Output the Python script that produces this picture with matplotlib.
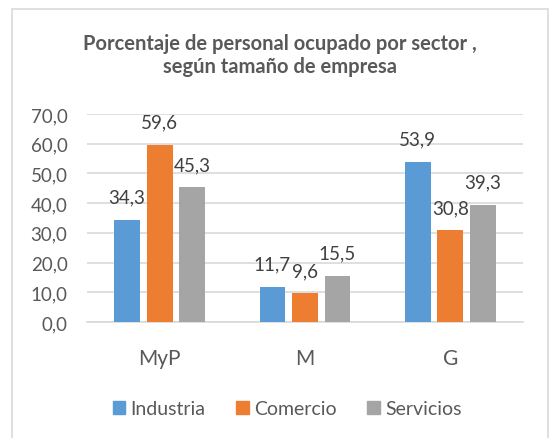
import matplotlib
matplotlib.use("Agg")
import matplotlib.pyplot as plt
import numpy as np
from matplotlib.patches import Rectangle

categories = ["MyP", "M", "G"]
series_names = ["Industria", "Comercio", "Servicios"]
industria = [34.3, 11.7, 53.9]
comercio = [59.6, 9.6, 30.8]
servicios = [45.3, 15.5, 39.3]
yticks = [0, 10, 20, 30, 40, 50, 60, 70]
colors = ["#5B9BD5", "#ED7D31", "#A5A5A5"]
title = "Porcentaje de personal ocupado por sector ,\nsegún tamaño de empresa"

plt.rcParams['font.family'] = ['Lato', 'DejaVu Sans']
txt = "#595959"
W, H = 553, 439
fig = plt.figure(figsize=(W/100, H/100), dpi=100)
fig.patch.set_facecolor("white")
fig.patches.append(Rectangle((12/W, -0.1), (548-12)/W, 1.1 - 10/H + 0.0, transform=fig.transFigure,
                             fill=False, edgecolor="#D9D9D9", linewidth=1.2))

ax = fig.add_axes([87/W, 1-323/H, (523-87)/W, (323-115)/H])
x = np.arange(len(categories))
pitch = 0.224
bw = 0.178
data = [industria, comercio, servicios]
for i, (vals, c) in enumerate(zip(data, colors)):
    bars = ax.bar(x + (i-1)*pitch, vals, width=bw, color=c, zorder=3)
    for b, v in zip(bars, vals):
        ax.annotate(f"{v:.1f}".replace(".", ","), (b.get_x()+b.get_width()/2, v),
                    xytext=(0, 16.5), textcoords="offset points", ha="center", va="center",
                    fontsize=13.5, color="#404040")

ax.set_xlim(-0.5, 2.5)
ax.set_ylim(0, 70)
ax.set_yticks(yticks)
ax.set_yticklabels([f"{v:.1f}".replace(".", ",") for v in yticks], fontsize=13.5, color=txt)
ax.set_xticks(x)
ax.set_xticklabels(categories, fontsize=15, color=txt)
ax.tick_params(axis='both', length=0)
ax.tick_params(axis='x', pad=19)
ax.tick_params(axis='y', pad=14)
ax.grid(axis='y', color="#D9D9D9", linewidth=1.2, zorder=0)
for s in ["top", "right", "left"]:
    ax.spines[s].set_visible(False)
ax.spines["bottom"].set_color("#D9D9D9")
ax.spines["bottom"].set_linewidth(1.2)

fig.text(280/W, 1-55.5/H, title, ha="center", va="center", fontsize=14.5, fontweight="bold",
         color=txt, linespacing=1.15)

handles = [Rectangle((0, 0), 1, 1, color=c) for c in colors]
fig.legend(handles, series_names, loc="center", bbox_to_anchor=(287/W, 1-410/H), ncol=3,
           frameon=False, fontsize=14, handlelength=0.65, handleheight=0.65, handletextpad=0.25,
           columnspacing=1.6, labelcolor=txt)

fig.savefig("out.png", dpi=100)
